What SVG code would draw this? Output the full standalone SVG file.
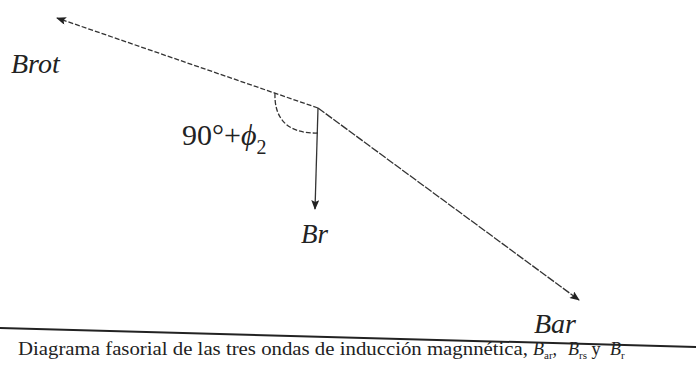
<svg xmlns="http://www.w3.org/2000/svg" width="696" height="377" viewBox="0 0 696 377">
<style>
text{font-family:'Liberation Serif','DejaVu Serif',serif;fill:#222}
.lbl{font-style:italic}
.ln{stroke:#333;stroke-width:1.3;fill:none}
.dash{stroke-dasharray:5 2}
</style>
<defs>
<marker id="ah" viewBox="0 0 10 8" refX="9" refY="4" markerWidth="11" markerHeight="8" markerUnits="userSpaceOnUse" orient="auto">
<path d="M0,0 L10,4 L0,8 L2,4 Z" fill="#222"/>
</marker>
</defs>
<rect width="696" height="377" fill="#fff"/>
<g id="connectors">
<line class="ln dash" x1="318" y1="108" x2="57" y2="18" marker-end="url(#ah)"/>
<line class="ln" stroke-dasharray="8 1.5" x1="318" y1="108" x2="579" y2="300" marker-end="url(#ah)"/>
<line class="ln" x1="318" y1="108" x2="315" y2="209" marker-end="url(#ah)"/>
<path class="ln dash" d="M275,93 C274,118 287,134 318,133"/>
</g>
<g id="Brot"><text class="lbl" x="11" y="73" font-size="28">Brot</text></g>
<g id="angle"><text x="182" y="145" font-size="30">90°+<tspan font-style="italic">ϕ</tspan><tspan font-size="20" dy="9">2</tspan></text></g>
<g id="Br"><text class="lbl" x="301" y="243" font-size="27">Br</text></g>
<g id="Bar"><text class="lbl" x="534" y="333" font-size="28">Bar</text></g>
<g id="caption">
<line x1="0" y1="328" x2="696" y2="347" stroke="#222" stroke-width="2"/>
<text x="18" y="355" font-size="18" textLength="510" lengthAdjust="spacingAndGlyphs">Diagrama fasorial de las tres ondas de inducción magnnética,</text>
<text y="355" font-size="18"><tspan x="533" font-style="italic">B</tspan><tspan font-size="11" dy="4">ar</tspan><tspan dy="-4">,</tspan><tspan x="568" font-style="italic">B</tspan><tspan font-size="11" dy="4">rs</tspan><tspan dy="-4"> y </tspan><tspan x="610" font-style="italic">B</tspan><tspan font-size="11" dy="4">r</tspan></text>
</g>
</svg>
